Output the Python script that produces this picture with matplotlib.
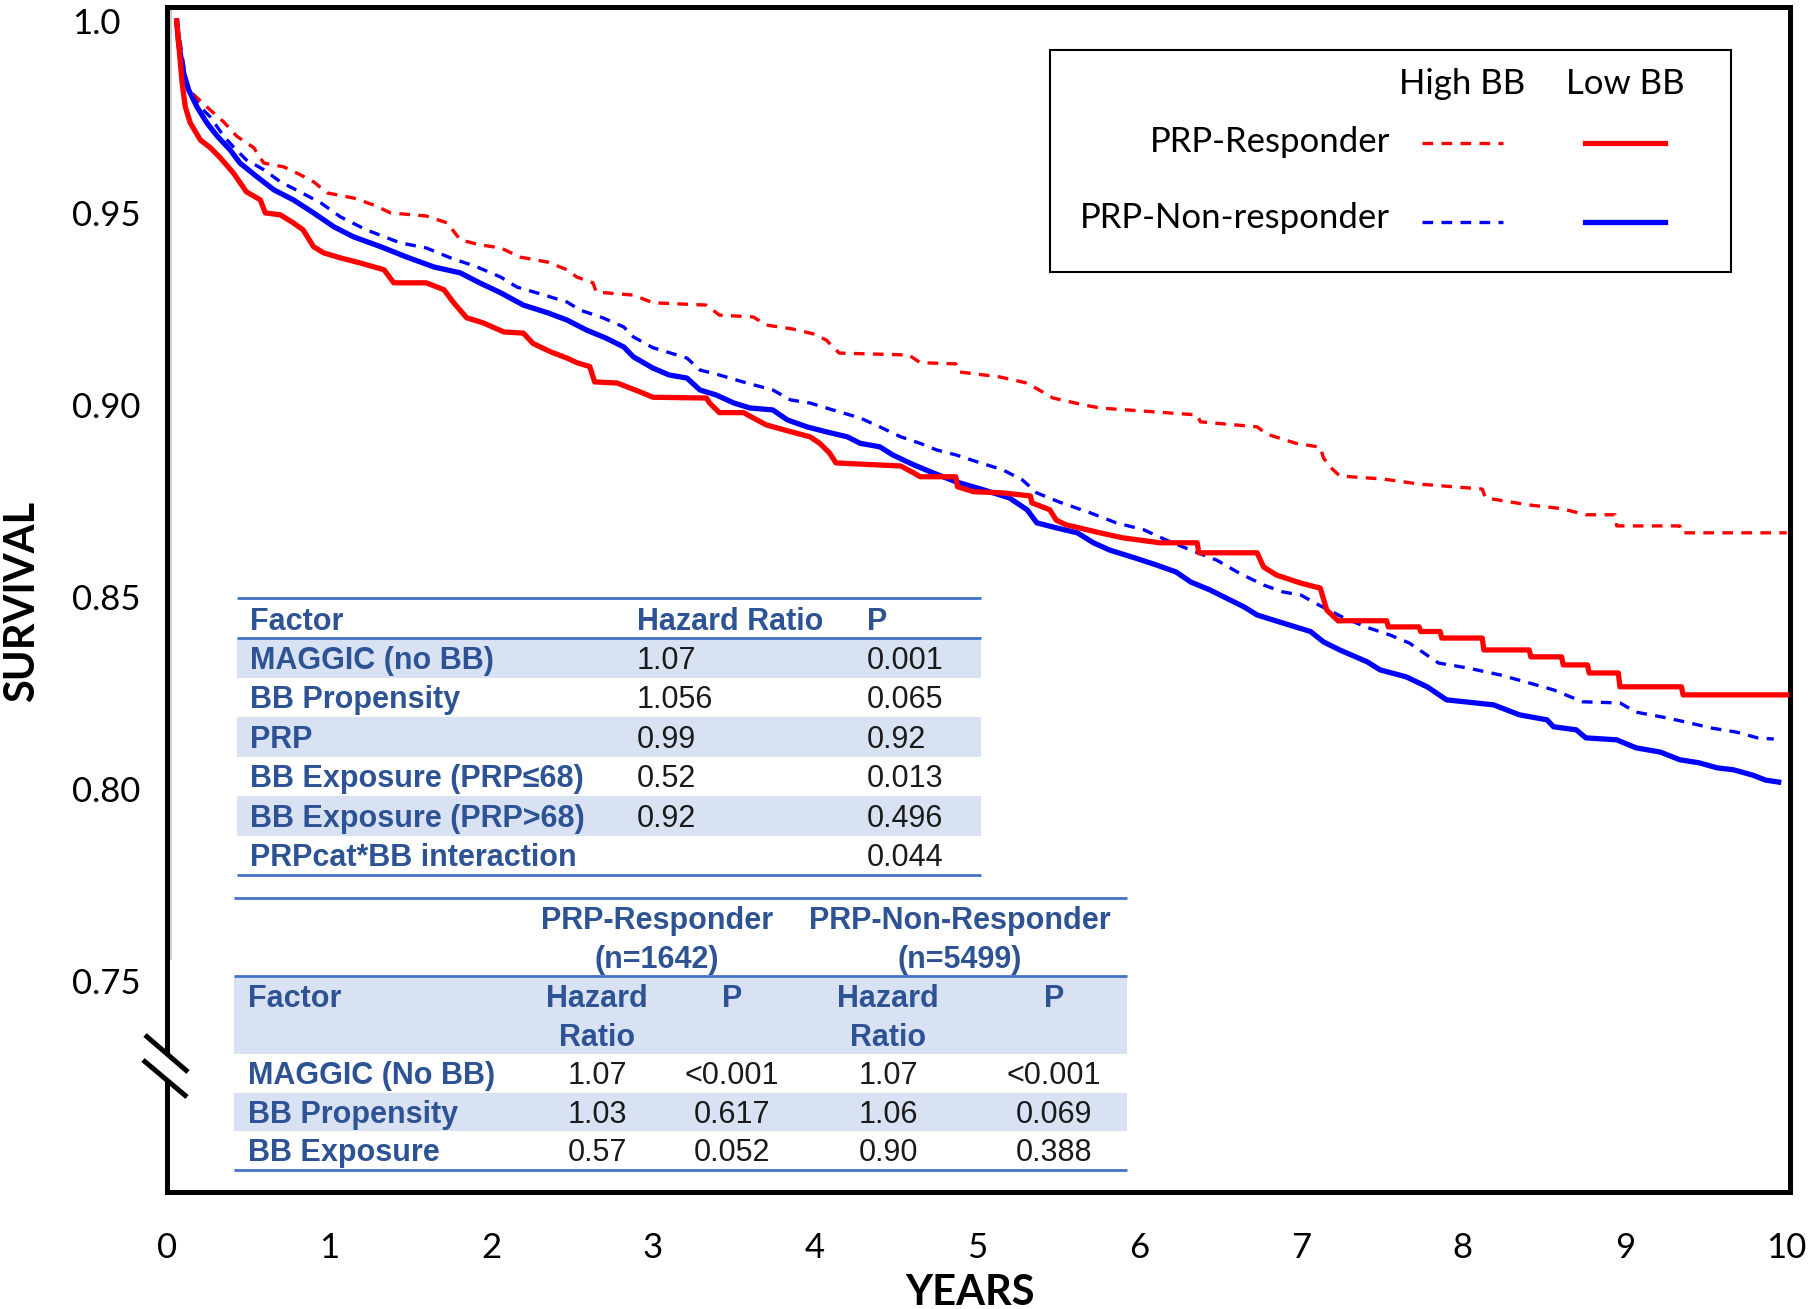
import matplotlib
matplotlib.use("Agg")
import matplotlib.pyplot as plt
from matplotlib.patches import Rectangle, Polygon

# ---------------- data ----------------
years_ticks = [0, 1, 2, 3, 4, 5, 6, 7, 8, 9, 10]
surv_ticks = [1.0, 0.95, 0.90, 0.85, 0.80, 0.75]
surv_tick_labels = ["1.0", "0.95", "0.90", "0.85", "0.80", "0.75"]

# PRP-Responder, Low BB (red solid)
resp_low_t = [0.06, 0.093, 0.113, 0.144, 0.206, 0.267, 0.33, 0.41, 0.49, 0.576, 0.607, 0.70, 0.78, 0.84,
              0.905, 0.967, 1.07, 1.19, 1.34, 1.40, 1.60, 1.71, 1.77, 1.85, 1.95, 2.08, 2.20, 2.26, 2.37,
              2.47, 2.53, 2.61, 2.64, 2.78, 2.92, 3.0, 3.33, 3.35, 3.41, 3.56, 3.62, 3.70, 3.81, 3.97,
              4.03, 4.09, 4.13, 4.53, 4.61, 4.65, 4.87, 4.88, 4.98, 5.16, 5.33, 5.34, 5.45, 5.49, 5.55,
              5.68, 5.76, 5.90, 6.13, 6.36, 6.37, 6.73, 6.77, 6.85, 7.0, 7.12, 7.16, 7.23, 7.53, 7.54,
              7.73, 7.74, 7.86, 7.87, 8.12, 8.13, 8.41, 8.42, 8.61, 8.62, 8.77, 8.78, 8.96, 8.97, 9.35,
              9.36, 10.0]
resp_low_s = [1.0, 0.984, 0.9776, 0.9734, 0.969, 0.967, 0.9643, 0.9604, 0.9555, 0.9534, 0.950, 0.9495,
              0.9474, 0.9456, 0.9412, 0.9396, 0.9383, 0.937, 0.9352, 0.9318, 0.9318, 0.930, 0.9266, 0.9227,
              0.9214, 0.919, 0.9187, 0.916, 0.9138, 0.9122, 0.911, 0.910, 0.906, 0.9057, 0.9034, 0.902,
              0.9018, 0.9005, 0.898, 0.898, 0.8966, 0.8948, 0.8935, 0.8917, 0.890, 0.8875, 0.8849, 0.8841,
              0.8823, 0.8813, 0.8813, 0.8787, 0.8774, 0.8771, 0.8763, 0.8745, 0.8727, 0.870, 0.8688,
              0.8675, 0.8667, 0.8654, 0.8641, 0.8641, 0.8615, 0.8615, 0.8578, 0.8557, 0.8536, 0.8523,
              0.8466, 0.8438, 0.8438, 0.8422, 0.8422, 0.841, 0.841, 0.8393, 0.8393, 0.8362, 0.8362,
              0.8344, 0.8344, 0.8323, 0.8323, 0.8302, 0.8302, 0.8266, 0.8266, 0.8245, 0.8245]

# PRP-Responder, High BB (red dashed)
resp_high_t = [0.06, 0.123, 0.185, 0.267, 0.35, 0.43, 0.535, 0.597, 0.72, 0.82, 0.905, 0.99, 1.15, 1.28,
               1.38, 1.60, 1.73, 1.81, 1.93, 2.06, 2.18, 2.35, 2.47, 2.53, 2.63, 2.65, 2.88, 3.0, 3.33,
               3.41, 3.62, 3.70, 3.86, 3.99, 4.07, 4.15, 4.58, 4.65, 4.87, 4.89, 5.14, 5.31, 5.47, 5.66,
               5.76, 6.36, 6.38, 6.73, 6.79, 6.97, 7.12, 7.14, 7.18, 7.24, 7.51, 7.73, 8.12, 8.14, 8.40,
               8.61, 8.76, 8.94, 8.95, 9.34, 9.35, 10.0]
resp_high_s = [1.0, 0.9825, 0.980, 0.9768, 0.9737, 0.970, 0.967, 0.963, 0.962, 0.960, 0.9581, 0.9552,
               0.9539, 0.952, 0.950, 0.9492, 0.9474, 0.943, 0.9417, 0.9409, 0.9385, 0.9372, 0.9352,
               0.9333, 0.9318, 0.9294, 0.9286, 0.9266, 0.926, 0.9234, 0.9229, 0.9208, 0.9198, 0.9185,
               0.9169, 0.9135, 0.913, 0.911, 0.9107, 0.9086, 0.9073, 0.9057, 0.9018, 0.900, 0.8992,
               0.8974, 0.8956, 0.8943, 0.8924, 0.890, 0.889, 0.8862, 0.8839, 0.8815, 0.8807, 0.8794,
               0.8781, 0.8758, 0.874, 0.873, 0.8714, 0.8714, 0.8685, 0.8685, 0.8667, 0.8667]

# PRP-Non-responder, Low BB (blue solid)
non_low_t = [0.06, 0.072, 0.103, 0.134, 0.185, 0.247, 0.31, 0.39, 0.45, 0.556, 0.66, 0.78, 0.905, 1.03,
             1.15, 1.32, 1.48, 1.65, 1.81, 1.93, 2.06, 2.20, 2.35, 2.47, 2.59, 2.71, 2.82, 2.88, 3.0,
             3.1, 3.21, 3.29, 3.39, 3.50, 3.60, 3.74, 3.83, 3.95, 4.07, 4.20, 4.28, 4.40, 4.48, 4.61,
             4.73, 4.87, 5.04, 5.20, 5.31, 5.37, 5.49, 5.62, 5.72, 5.82, 5.98, 6.11, 6.23, 6.32, 6.44,
             6.54, 6.65, 6.73, 6.89, 7.06, 7.14, 7.24, 7.41, 7.49, 7.65, 7.78, 7.90, 8.19, 8.35, 8.52,
             8.56, 8.70, 8.76, 8.95, 9.07, 9.22, 9.34, 9.46, 9.57, 9.67, 9.79, 9.87, 9.95]
non_low_s = [1.0, 0.994, 0.9864, 0.982, 0.9776, 0.9734, 0.970, 0.9664, 0.963, 0.9594, 0.956, 0.9534,
             0.950, 0.9464, 0.9438, 0.9412, 0.9385, 0.9359, 0.9344, 0.9318, 0.9292, 0.926, 0.924, 0.9221,
             0.9195, 0.9174, 0.9151, 0.9125, 0.9096, 0.9078, 0.907, 0.9039, 0.9026, 0.9005, 0.8992,
             0.8987, 0.8961, 0.8943, 0.893, 0.8917, 0.890, 0.8891, 0.887, 0.8844, 0.8823, 0.880, 0.8779,
             0.8758, 0.8727, 0.8693, 0.868, 0.8667, 0.8641, 0.8622, 0.8601, 0.8583, 0.8565, 0.8539,
             0.8518, 0.8497, 0.8474, 0.8453, 0.8432, 0.841, 0.8383, 0.8362, 0.8331, 0.831, 0.8292,
             0.8266, 0.8232, 0.8219, 0.8193, 0.818, 0.8162, 0.8154, 0.8133, 0.8128, 0.8107, 0.8096,
             0.8076, 0.8068, 0.8055, 0.805, 0.8036, 0.8023, 0.8018]

# PRP-Non-responder, High BB (blue dashed)
non_high_t = [0.06, 0.123, 0.206, 0.267, 0.35, 0.41, 0.49, 0.60, 0.70, 0.82, 0.95, 1.07, 1.23, 1.44, 1.60,
              1.75, 1.91, 2.06, 2.16, 2.33, 2.47, 2.55, 2.69, 2.82, 2.88, 3.0, 3.11, 3.21, 3.29, 3.41,
              3.58, 3.74, 3.85, 3.97, 4.11, 4.28, 4.40, 4.53, 4.65, 4.75, 4.87, 5.0, 5.16, 5.28, 5.37,
              5.51, 5.70, 5.86, 6.03, 6.17, 6.32, 6.48, 6.62, 6.77, 6.89, 7.0, 7.12, 7.26, 7.40, 7.55,
              7.67, 7.85, 8.03, 8.23, 8.41, 8.56, 8.74, 8.97, 9.07, 9.26, 9.40, 9.53, 9.69, 9.82, 9.92]
non_high_s = [1.0, 0.9828, 0.9776, 0.975, 0.970, 0.9672, 0.9638, 0.9612, 0.9581, 0.9555, 0.9526, 0.949,
              0.9456, 0.9422, 0.9409, 0.9383, 0.936, 0.9333, 0.9307, 0.9286, 0.9268, 0.9247, 0.9227,
              0.9203, 0.9177, 0.9149, 0.9135, 0.9122, 0.9091, 0.9078, 0.9057, 0.9039, 0.9013, 0.9005,
              0.8987, 0.8966, 0.8943, 0.8917, 0.890, 0.8883, 0.887, 0.8852, 0.8831, 0.8805, 0.8771,
              0.8747, 0.8719, 0.8693, 0.8675, 0.8648, 0.8622, 0.8596, 0.8562, 0.8531, 0.8513, 0.8505,
              0.8477, 0.8447, 0.8422, 0.8401, 0.838, 0.8328, 0.8315, 0.8297, 0.8276, 0.8258, 0.8227,
              0.8224, 0.82, 0.8185, 0.8172, 0.8159, 0.8148, 0.8133, 0.813]

legend_cols = ["High BB", "Low BB"]
legend_rows = ["PRP-Responder", "PRP-Non-responder"]

t1_header = ["Factor", "Hazard Ratio", "P"]
t1_factors = ["MAGGIC (no BB)", "BB Propensity", "PRP", "BB Exposure (PRP\u226468)",
              "BB Exposure (PRP>68)", "PRPcat*BB interaction"]
t1_hr = ["1.07", "1.056", "0.99", "0.52", "0.92", ""]
t1_p = ["0.001", "0.065", "0.92", "0.013", "0.496", "0.044"]

t2_groups = [["PRP-Responder", "(n=1642)"], ["PRP-Non-Responder", "(n=5499)"]]
t2_factors = ["MAGGIC (No BB)", "BB Propensity", "BB Exposure"]
t2_resp_hr = ["1.07", "1.03", "0.57"]
t2_resp_p = ["<0.001", "0.617", "0.052"]
t2_non_hr = ["1.07", "1.06", "0.90"]
t2_non_p = ["<0.001", "0.069", "0.388"]

# ---------------- styling ----------------
plt.rcParams["font.family"] = ["Lato", "DejaVu Sans"]
W, H, DPI = 1810, 1309, 100
RED, BLUE = "#FF0000", "#0000FF"
TBLUE, SHADE, LINEC = "#2E5395", "#D9E2F3", "#4472C4"
TFONT = ["Liberation Sans", "DejaVu Sans"]

fig = plt.figure(figsize=(W / DPI, H / DPI), dpi=DPI)
ax = fig.add_axes([167 / W, 1 - 1192 / H, 1623 / W, (1192 - 6.7) / H])
ax.set_xlim(0, 10.02)
ax.set_ylim(0.69505, 1.0037)

solid_lw = 3.8
dash_lw = 2.4
dash = (3.2, 2.5)
ax.plot(non_high_t, non_high_s, color=BLUE, lw=dash_lw, dashes=dash, zorder=3)
ax.plot(resp_high_t, resp_high_s, color=RED, lw=dash_lw, dashes=dash, zorder=3)
ax.plot(non_low_t, non_low_s, color=BLUE, lw=solid_lw, zorder=4)
ax.plot(resp_low_t, resp_low_s, color=RED, lw=solid_lw, zorder=5)

# faint secondary axis line with minor ticks
ax.plot([0.025, 0.025], [0.7557, 1.0037], color="#c8c8c8", lw=1.2, zorder=1)
minor = [1.0 - 0.005 * k for k in range(49)]
ax.hlines(minor, 0.012, 0.025, color="#c8c8c8", lw=1.0, zorder=1)

ax.set_xticks(years_ticks)
ax.set_xticklabels([str(v) for v in years_ticks])
ax.set_yticks(surv_ticks)
ax.set_yticklabels(surv_tick_labels)
for lab in ax.get_yticklabels():
    lab.set_horizontalalignment("left")
ax.tick_params(axis="y", length=0, pad=68.4, labelsize=25)
ax.tick_params(axis="x", length=0, pad=29, labelsize=25)
for sp in ax.spines.values():
    sp.set_linewidth(3.6)
    sp.set_color("black")

# ---------------- overlay in pixel coordinates ----------------
ov = fig.add_axes([0, 0, 1, 1], zorder=10)
ov.set_xlim(0, W)
ov.set_ylim(H, 0)
ov.axis("off")
ov.patch.set_alpha(0)

# axis titles
ov.text(22, 601, "SURVIVAL", rotation=90, ha="center", va="center",
        fontsize=30, fontweight="bold")
ov.text(970, 1305, "YEARS", ha="center", va="baseline", fontsize=30, fontweight="bold")

# axis break mark
ov.add_patch(Polygon([[160, 1048], [176, 1062], [176, 1088], [160, 1074]], closed=True,
                     fc="white", ec="none"))
ov.plot([145, 188], [1035, 1072], color="black", lw=3.6, solid_capstyle="butt")
ov.plot([143, 187], [1060, 1097], color="black", lw=3.6, solid_capstyle="butt")

# legend box
ov.add_patch(Rectangle((1050, 50), 681, 222, fill=False, ec="black", lw=1.5))
ov.text(1462, 84, legend_cols[0], ha="center", va="center", fontsize=25)
ov.text(1625, 84, legend_cols[1], ha="center", va="center", fontsize=25)
ov.text(1390, 142, legend_rows[0], ha="right", va="center", fontsize=25)
ov.text(1390, 218, legend_rows[1], ha="right", va="center", fontsize=25)
ov.plot([1422, 1503], [143, 143], color=RED, lw=dash_lw, dashes=dash)
ov.plot([1585, 1665], [143, 143], color=RED, lw=solid_lw)
ov.plot([1422, 1503], [222, 222], color=BLUE, lw=dash_lw, dashes=dash)
ov.plot([1585, 1665], [222, 222], color=BLUE, lw=solid_lw)

TS = 22
CAP = 11  # half cap height in px


def btxt(x, yc, s, ha="left"):
    ov.text(x, yc + CAP, s, ha=ha, va="baseline", fontsize=TS, fontweight="bold",
            color=TBLUE, family=TFONT)


def vtxt(x, yc, s, ha="left"):
    ov.text(x, yc + CAP, s, ha=ha, va="baseline", fontsize=TS, color="#1a1a1a", family=TFONT)


def hline(x0, x1, y):
    ov.plot([x0, x1], [y, y], color=LINEC, lw=2.0, solid_capstyle="butt")


# table 1
x0, x1 = 237, 981
top, hdr, rh = 598, 638, 39.5
for i in range(len(t1_factors)):
    if i % 2 == 0:
        ov.add_patch(Rectangle((x0, hdr + i * rh), x1 - x0, rh, fc=SHADE, ec="none"))
hline(x0, x1, top)
hline(x0, x1, hdr)
hline(x0, x1, hdr + len(t1_factors) * rh)
cx = [250, 637, 867]
for j, h in enumerate(t1_header):
    btxt(cx[j], 619, h)
for i, (f, hr, p) in enumerate(zip(t1_factors, t1_hr, t1_p)):
    yc = hdr + (i + 0.5) * rh
    btxt(cx[0], yc, f)
    vtxt(cx[1], yc, hr)
    vtxt(cx[2], yc, p)

# table 2
x0, x1 = 234, 1127
top2, hdr2, body2, rh2 = 898, 976, 1054, 38.5
ov.add_patch(Rectangle((x0, hdr2), x1 - x0, body2 - hdr2, fc=SHADE, ec="none"))
ov.add_patch(Rectangle((x0, body2 + rh2), x1 - x0, rh2, fc=SHADE, ec="none"))
hline(x0, x1, top2)
hline(x0, x1, hdr2)
hline(x0, x1, body2 + 3 * rh2)
gcx = [657, 960]
for g, (l1, l2) in enumerate(t2_groups):
    btxt(gcx[g], 918, l1, ha="center")
    btxt(gcx[g], 957, l2, ha="center")
c2 = [248, 597, 732, 888, 1054]
btxt(c2[0], 996, "Factor")
for k in (1, 3):
    btxt(c2[k], 996, "Hazard", ha="center")
    btxt(c2[k], 1035, "Ratio", ha="center")
for k in (2, 4):
    btxt(c2[k], 996, "P", ha="center")
for i in range(3):
    yc = body2 + (i + 0.5) * rh2
    btxt(c2[0], yc, t2_factors[i])
    vtxt(c2[1], yc, t2_resp_hr[i], ha="center")
    vtxt(c2[2], yc, t2_resp_p[i], ha="center")
    vtxt(c2[3], yc, t2_non_hr[i], ha="center")
    vtxt(c2[4], yc, t2_non_p[i], ha="center")

fig.savefig("out.png", dpi=DPI)
